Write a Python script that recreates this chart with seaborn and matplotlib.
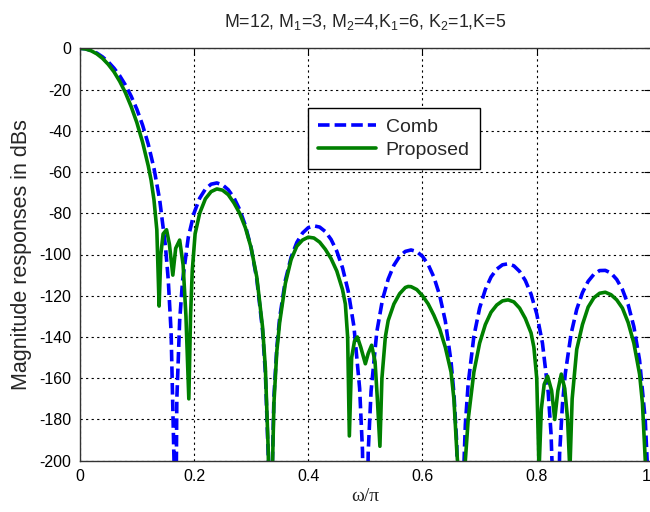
import matplotlib
matplotlib.use("Agg")
import matplotlib.pyplot as plt
import seaborn as sns
import pandas as pd

# ---------------- data ----------------
comb_freq = [0.0, 0.01, 0.02, 0.03, 0.04, 0.05, 0.06, 0.07, 0.08, 0.09,
             0.10, 0.11, 0.12, 0.13, 0.14, 0.15, 0.155, 0.16, 0.165, 0.1667,
             0.17, 0.175, 0.18, 0.19, 0.20, 0.21, 0.22, 0.23, 0.24, 0.25,
             0.26, 0.27, 0.28, 0.29, 0.30, 0.31, 0.32, 0.325, 0.33, 0.3333,
             0.335, 0.34, 0.345, 0.35, 0.36, 0.37, 0.38, 0.39, 0.40, 0.41,
             0.42, 0.43, 0.44, 0.45, 0.46, 0.47, 0.48, 0.49, 0.495, 0.50,
             0.505, 0.51, 0.52, 0.53, 0.54, 0.55, 0.56, 0.57, 0.58, 0.59,
             0.60, 0.61, 0.62, 0.63, 0.64, 0.65, 0.655, 0.66, 0.6667, 0.67,
             0.675, 0.68, 0.69, 0.70, 0.71, 0.72, 0.73, 0.74, 0.75, 0.76,
             0.77, 0.78, 0.79, 0.80, 0.81, 0.82, 0.825, 0.83, 0.8333, 0.84,
             0.845, 0.85, 0.86, 0.87, 0.88, 0.89, 0.90, 0.91, 0.92, 0.93,
             0.94, 0.95, 0.96, 0.97, 0.98, 0.99, 0.995, 1.0]
comb_db = [0.0, -0.26, -1.03, -2.32, -4.17, -6.59, -9.62, -13.3, -17.8, -23.2,
           -29.5, -37.2, -46.5, -58.2, -73.5, -95.7, -112.2, -137.7, -199.1, -300,
           -170.3, -131.9, -112.9, -91.8, -80.0, -72.7, -68.3, -65.9, -65.3, -66.2,
           -68.6, -72.5, -78.2, -86.0, -96.7, -112.0, -136.6, -157.4, -197.6, -300,
           -228.3, -168.8, -145.3, -130.7, -112.5, -101.4, -94.2, -89.6, -87.0, -86.1,
           -86.7, -88.9, -92.7, -98.4, -106.4, -117.8, -134.9, -164.9, -195.2, -300,
           -195.8, -166.3, -137.6, -121.9, -111.9, -105.2, -100.9, -98.5, -97.8, -98.6,
           -100.9, -104.9, -111.0, -119.7, -132.3, -152.0, -167.3, -191.6, -300, -222.0,
           -182.6, -162.6, -139.6, -126.0, -117.0, -110.9, -107.1, -105.0, -104.5, -105.5,
           -108.2, -112.6, -119.2, -128.8, -143.0, -166.6, -186.8, -226.6, -300, -196.7,
           -172.7, -157.7, -138.6, -126.6, -118.5, -113.0, -109.6, -107.8, -107.7, -109.0,
           -112.1, -117.0, -124.3, -135.0, -151.3, -180.6, -210.6, -300]

prop_freq = [0.0, 0.01, 0.02, 0.03, 0.04, 0.05, 0.06, 0.07, 0.08, 0.09,
             0.10, 0.11, 0.12, 0.125, 0.13, 0.135, 0.139, 0.142, 0.146, 0.152,
             0.157, 0.163, 0.168, 0.175, 0.181, 0.186, 0.191, 0.194, 0.197, 0.202,
             0.21, 0.22, 0.23, 0.24, 0.25, 0.26, 0.27, 0.28, 0.29, 0.30,
             0.31, 0.32, 0.325, 0.33, 0.3333, 0.336, 0.34, 0.345, 0.35, 0.36,
             0.37, 0.38, 0.39, 0.40, 0.41, 0.42, 0.43, 0.44, 0.45, 0.46,
             0.465, 0.469, 0.472, 0.476, 0.481, 0.486, 0.492, 0.50, 0.505, 0.511,
             0.517, 0.521, 0.5255, 0.529, 0.535, 0.54, 0.55, 0.56, 0.57, 0.575,
             0.58, 0.59, 0.60, 0.61, 0.62, 0.63, 0.64, 0.65, 0.655, 0.66,
             0.665, 0.67, 0.675, 0.68, 0.69, 0.70, 0.71, 0.72, 0.73, 0.74,
             0.75, 0.76, 0.77, 0.78, 0.79, 0.795, 0.80, 0.804, 0.808, 0.813,
             0.819, 0.826, 0.8315, 0.837, 0.843, 0.849, 0.854, 0.858, 0.862, 0.87,
             0.88, 0.89, 0.90, 0.91, 0.92, 0.93, 0.94, 0.95, 0.96, 0.97,
             0.98, 0.985, 0.99, 0.995]
prop_db = [0.0, -0.3, -1.2, -2.7, -4.9, -7.8, -11.4, -16.0, -21.5, -28.2,
           -36.0, -45.5, -57.0, -64.0, -73.5, -88.0, -125.0, -100.0, -90.0, -88.0,
           -95.0, -110.0, -97.0, -93.0, -105.0, -130.0, -170.0, -130.0, -108.0, -90.0,
           -80.0, -73.0, -69.5, -68.2, -68.8, -71.0, -75.0, -80.0, -87.0, -96.7,
           -111.0, -135.0, -155.0, -195.0, -250.0, -220.0, -172.0, -147.0, -133.0, -114.0,
           -102.5, -96.0, -93.0, -91.6, -92.0, -94.0, -97.5, -102.0, -108.0, -117.0,
           -124.0, -140.0, -188.0, -150.0, -142.0, -140.0, -145.0, -153.0, -148.0, -144.0,
           -152.0, -170.0, -193.0, -160.0, -140.0, -132.0, -124.0, -119.0, -116.0, -115.5,
           -115.6, -117.0, -120.0, -124.0, -129.5, -136.0, -145.0, -157.0, -170.0, -195.0,
           -215.0, -215.0, -200.0, -180.0, -157.0, -143.0, -134.0, -128.0, -124.5, -122.5,
           -122.0, -123.0, -126.0, -131.0, -138.0, -145.0, -160.0, -205.0, -175.0, -163.0,
           -159.0, -166.0, -180.0, -166.0, -158.0, -165.0, -180.0, -205.0, -170.0, -146.0,
           -134.0, -125.5, -121.0, -118.8, -118.3, -119.5, -122.0, -126.0, -133.0, -143.0,
           -158.0, -172.0, -200.0, -240.0]

x_ticks = [0, 0.2, 0.4, 0.6, 0.8, 1]
x_tick_labels = ["0", "0.2", "0.4", "0.6", "0.8", "1"]
y_ticks = [0, -20, -40, -60, -80, -100, -120, -140, -160, -180, -200]
y_tick_labels = ["0", "-20", "-40", "-60", "-80", "-100", "-120", "-140", "-160", "-180", "-200"]
series_names = ["Comb", "Proposed"]
title_text = "M=12, M$_1$=3, M$_2$=4,K$_1$=6, K$_2$=1,K=5"

# ---------------- plotting ----------------
sns.set_style("white")
plt.rcParams['font.family'] = ['Liberation Sans', 'DejaVu Sans']
plt.rcParams['mathtext.fontset'] = 'custom'
plt.rcParams['mathtext.rm'] = 'Liberation Sans'

fig = plt.figure(figsize=(6.5, 5.12), dpi=100)
ax = fig.add_axes([79.7 / 650, (512 - 460.7) / 512, (651 - 79.7) / 650, (460.7 - 48.3) / 512])

comb_df = pd.DataFrame({"freq": comb_freq, "db": comb_db})
prop_df = pd.DataFrame({"freq": prop_freq, "db": prop_db})

sns.lineplot(data=comb_df, x="freq", y="db", ax=ax, color="#0000ff",
             linewidth=2.6, linestyle=(0, (3.2, 1.4)), label=series_names[0])
sns.lineplot(data=prop_df, x="freq", y="db", ax=ax, color="#008000",
             linewidth=2.6, linestyle="-", label=series_names[1])

ax.set_xlim(0, 1)
ax.set_ylim(-200, 0)
ax.set_xticks(x_ticks)
ax.set_xticklabels(x_tick_labels)
ax.set_yticks(y_ticks)
ax.set_yticklabels(y_tick_labels)
ax.grid(True, color="#000000", linestyle=(0, (2, 3)), linewidth=0.8)
ax.tick_params(direction="in", length=5, width=0.8, top=True, right=True,
               labelsize=11.5, colors="#000000", pad=6)
# keep the last x label inside the picture
ax.get_xticklabels()[-1].set_horizontalalignment("right")
for sp in ax.spines.values():
    sp.set_color("#333333")
    sp.set_linewidth(1.0)

ax.set_title(title_text, fontsize=12.8, pad=15)
ax.set_xlabel("ω/π", fontsize=14, family=['Liberation Serif', 'DejaVu Serif'], labelpad=3)
ax.set_ylabel("Magnitude responses in dBs", fontsize=15.5, labelpad=5)

leg = ax.legend(loc="upper left", bbox_to_anchor=((308 - 79.7) / 571.3, 1 - (108.3 - 48.3) / 412.4),
                frameon=True, fancybox=False, edgecolor="#000000", fontsize=14,
                handlelength=3.0, borderpad=0.5, labelspacing=0.3, handletextpad=0.5,
                borderaxespad=0)
leg.get_frame().set_linewidth(1.0)
leg.get_frame().set_facecolor("white")
leg.get_frame().set_alpha(1)

fig.savefig("out.png", dpi=100)
